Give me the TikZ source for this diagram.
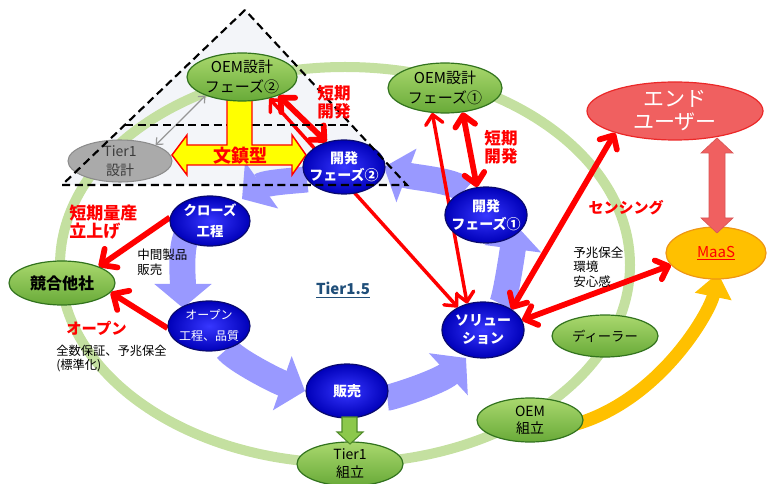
\documentclass[tikz,border=0pt]{standalone}
\usepackage{fontspec}
\setmainfont{Noto Sans CJK JP}
\usetikzlibrary{arrows.meta,shapes.geometric,calc,backgrounds}
\definecolor{ringgreen}{RGB}{196,224,160}
\definecolor{lav}{RGB}{153,153,255}
\definecolor{gtop}{RGB}{170,216,110}
\definecolor{gbot}{RGB}{104,170,56}
\definecolor{gborder}{RGB}{50,115,30}
\definecolor{bin}{RGB}{55,55,255}
\definecolor{bout}{RGB}{0,0,185}
\definecolor{bborder}{RGB}{10,10,110}
\definecolor{eufill}{RGB}{240,96,96}
\definecolor{euborder}{RGB}{235,40,40}
\definecolor{gold}{RGB}{255,192,0}
\definecolor{maasborder}{RGB}{238,150,20}
\definecolor{trifill}{RGB}{243,245,249}
\definecolor{tdblue}{RGB}{31,78,121}
\definecolor{graynode}{RGB}{170,170,170}
\definecolor{grayborder}{RGB}{140,140,140}
\definecolor{graytext}{RGB}{60,60,60}
\definecolor{grayline}{RGB}{150,150,150}
\definecolor{blockgreen}{RGB}{140,200,75}
\definecolor{blockgreenborder}{RGB}{80,140,40}
\definecolor{pureRed}{RGB}{255,0,0}
\definecolor{yel}{RGB}{255,255,0}
\begin{document}
\begin{tikzpicture}[x=0.75pt,y=-0.75pt,
  gnode/.style={ellipse,draw=gborder,line width=0.9pt,top color=gtop,bottom color=gbot,inner sep=0pt},
  bnode/.style={ellipse,draw=bborder,line width=0.9pt,inner color=bin,outer color=bout,inner sep=0pt},
  lbl/.style={align=center,inner sep=0pt},
  rthick/.style={draw=pureRed,line width=4.3pt},
  rthin/.style={draw=pureRed,line width=2.6pt},
  dtips/.style={arrows={Straight Barb[length=8pt,width=15pt,round]-Straight Barb[length=8pt,width=15pt,round]}},
  etip/.style={arrows={-Straight Barb[length=9pt,width=17pt,round]}},
  stips/.style={arrows={Straight Barb[length=7pt,width=13pt,round]-Straight Barb[length=7pt,width=13pt,round]}},
  grayarrow/.style={draw=grayline,line width=0.9pt,arrows={Straight Barb[length=4pt,width=7pt]-Straight Barb[length=4pt,width=7pt]}},
  lavarrow/.style={draw=lav,line width=19.5pt,arrows={-Triangle[width=42pt,length=18pt]}},
  orangearrow/.style={draw=gold,line width=9.75pt,arrows={-Triangle[width=27pt,length=18pt]}},
  tridash/.style={draw=black,line width=1.6pt,dash pattern=on 6pt off 3.5pt},
  redtxt/.style={text=pureRed,font=\bfseries\fontsize{12.4}{13.5}\selectfont,align=center,inner sep=0pt},
  blktxt/.style={text=black,font=\fontsize{9.4}{11.25}\selectfont,align=left,inner sep=0pt,anchor=west},
]
\useasboundingbox (0,0) rectangle (777,484);

% ---------- nodes ----------
\node[gnode,minimum width=82.5pt,minimum height=36pt,label={[lbl,font=\fontsize{11.25}{15}\selectfont]center:{OEM設計\\フェーズ②}}] (oem2) at (242,77) {};
\node[ellipse,draw=grayborder,line width=0.8pt,fill=graynode,inner sep=0pt,minimum width=78pt,minimum height=31.5pt,label={[lbl,text=graytext,font=\fontsize{10.5}{14.6}\selectfont]center:{Tier1\\設計}}] (t1d) at (120,161) {};
\node[bnode,minimum width=61.5pt,minimum height=40.5pt,label={[lbl,text=white,font=\bfseries\fontsize{10.5}{12.75}\selectfont]center:{開発\\フェーズ②}}] (dev2) at (344,167) {};
\node[gnode,minimum width=85.5pt,minimum height=37.5pt,label={[lbl,font=\fontsize{11.25}{15}\selectfont]center:{OEM設計\\フェーズ①}}] (oem1) at (445,88) {};
\node[bnode,minimum width=61.5pt,minimum height=42pt,label={[lbl,text=white,font=\bfseries\fontsize{10.5}{13.5}\selectfont]center:{開発\\フェーズ①}}] (dev1) at (486,215) {};
\node[ellipse,draw=euborder,line width=0.9pt,fill=eufill,inner sep=0pt,minimum width=132pt,minimum height=43.5pt,label={[lbl,text=white,font=\fontsize{15.75}{17.25}\selectfont]center:{エンド\\ユーザー}}] (enduser) at (675,111) {};
\node[ellipse,draw=maasborder,line width=0.9pt,fill=gold,inner sep=0pt,minimum width=75pt,minimum height=39pt,label={[lbl,text=pureRed,font=\fontsize{11.25}{13}\selectfont]center:{\underline{MaaS}}}] (maas) at (716,253) {};
\node[bnode,minimum width=60pt,minimum height=37.5pt,label={[lbl,text=white,font=\bfseries\fontsize{10}{15.75}\selectfont]center:{クローズ\\工程}}] (close) at (210,221) {};
\node[bnode,minimum width=61.5pt,minimum height=37.5pt,label={[lbl,text=white,font=\fontsize{9}{15.75}\selectfont]center:{オープン\\工程、品質}}] (open) at (209,326) {};
\node[gnode,minimum width=79.5pt,minimum height=33pt,label={[lbl,font=\bfseries\fontsize{12}{14}\selectfont]center:{競合他社}}] (rival) at (62,283) {};
\node[bnode,minimum width=61.5pt,minimum height=40.5pt,label={[lbl,text=white,font=\bfseries\fontsize{10.5}{13}\selectfont]center:{販売}}] (sales) at (347,391) {};
\node[bnode,minimum width=61.5pt,minimum height=42pt,label={[lbl,text=white,font=\bfseries\fontsize{10.5}{13.5}\selectfont]center:{ソリュー\\ション}}] (sol) at (483,330) {};
\node[gnode,minimum width=79.5pt,minimum height=31.5pt,label={[lbl,font=\fontsize{10}{13}\selectfont]center:{ディーラー}}] (dealer) at (605,336) {};
\node[gnode,minimum width=79.5pt,minimum height=33pt,label={[lbl,font=\fontsize{10.5}{12.75}\selectfont]center:{OEM\\組立}}] (oemasm) at (530,420) {};
\node[gnode,minimum width=79.5pt,minimum height=33pt,label={[lbl,font=\fontsize{10.5}{13.5}\selectfont]center:{Tier1\\組立}}] (t1asm) at (350,464) {};

% ---------- background layer ----------
\begin{pgfonlayer}{background}
\fill[trifill] (245,10) -- (62,185) -- (407,185) -- cycle;
\draw[ringgreen,line width=7.5pt] (345,265) ellipse [x radius=285, y radius=198];
% circular flow
\draw[lavarrow] (dev2) .. controls (305,180) and (266,182) .. ($(close)+(32,-22)$);
\draw[lavarrow] ($(close)+(-15,5)$) .. controls (178,232) and (183,278) .. ($(open)+(-26,-18)$);
\draw[lavarrow] (open) .. controls (235,360) and (276,381) .. ($(sales)+(-42,0)$);
\draw[lavarrow] (sales) .. controls (390,398) and (440,382) .. ($(sol)+(-17,28)$);
\draw[lavarrow] (sol) .. controls (505,300) and (512,255) .. ($(dev1)+(30,10)$);
\draw[lavarrow] (dev1) .. controls (455,180) and (412,177.5) .. ($(dev2)+(40,0)$);
% orange
\draw[orangearrow] ($(oemasm)+(30,8)$) .. controls (655,410) and (710,312) .. ($(maas)+(2,20)$);
% red arrows
\draw[rthick,dtips] (oem2.-27) -- (dev2.125);
\draw[rthin,stips] (oem2.-38) -- (sol.138);
\draw[rthin,stips] (oem1.-117) -- (sol.121);
\draw[rthick,dtips] (oem1.-54) -- (dev1.108);
\draw[rthick,dtips] (enduser.-160) -- (sol.36);
\draw[rthick,dtips] (maas.195) -- (sol.14);
\draw[rthick,etip] (close.175) -- (rival.24);
\draw[rthick,etip] (open.183) -- (rival.-11);
\draw[grayarrow] (t1d.24) -- (oem2.207);
% inner dashed line and bunchin shape
\draw[tridash] (125,125) -- (351,125);
\draw[fill=yel,draw=pureRed,line width=1.1pt,line join=miter]
  (172,155) -- (187,135) -- (187,145) -- (227,145) -- (227,100) -- (252,100) -- (252,145)
  -- (292,145) -- (292,135) -- (306,155) -- (292,175) -- (292,165) -- (187,165) -- (187,175) -- cycle;
\end{pgfonlayer}

% ---------- foreground ----------
\draw[tridash,line join=miter] (245,10) -- (62,185) -- (407,185) -- cycle;
\draw[fill=eufill,draw=eufill!90!black,line width=0.5pt]
  (717,138) -- (733,153) -- (725,153) -- (725,218) -- (733,218) -- (717,233)
  -- (701,218) -- (709,218) -- (709,153) -- (701,153) -- cycle;
\draw[fill=blockgreen,draw=blockgreenborder,line width=0.8pt]
  (342,417) -- (357,417) -- (357,432) -- (363,432) -- (350,444) -- (337,432) -- (342,432) -- cycle;

% ---------- texts ----------
\node[text=pureRed,font=\bfseries\fontsize{13.5}{15}\selectfont,inner sep=0pt] (tbun) at (240,156) {文鎮型};
\node[redtxt] (tshort2) at (334,102) {短期\\開発};
\node[redtxt] (tshort1) at (501,147) {短期\\開発};
\node[redtxt,align=left,anchor=west,font=\bfseries\fontsize{12.75}{13.5}\selectfont] (tmass) at (69,222) {短期量産\\立上げ};
\node[blktxt] (tmid) at (137,262.5) {中間製品\\販売};
\node[redtxt,anchor=west,font=\bfseries\fontsize{11.5}{13.5}\selectfont] (topen) at (66,328) {オープン};
\node[blktxt,font=\fontsize{9.2}{10.5}\selectfont] (tfull) at (56,359) {全数保証、予兆保全\\(標準化)};
\node[blktxt,font=\fontsize{9.4}{10.7}\selectfont] (tpred) at (573,267) {予兆保全\\環境\\安心感};
\node[redtxt,font=\bfseries\fontsize{11.25}{13}\selectfont] (tsens) at (626,208) {センシング};
\node[text=tdblue,font=\bfseries\fontsize{11.25}{13}\selectfont,inner sep=0pt] (t15) at (343,290) {\underline{Tier1.5}};
\end{tikzpicture}
\end{document}
